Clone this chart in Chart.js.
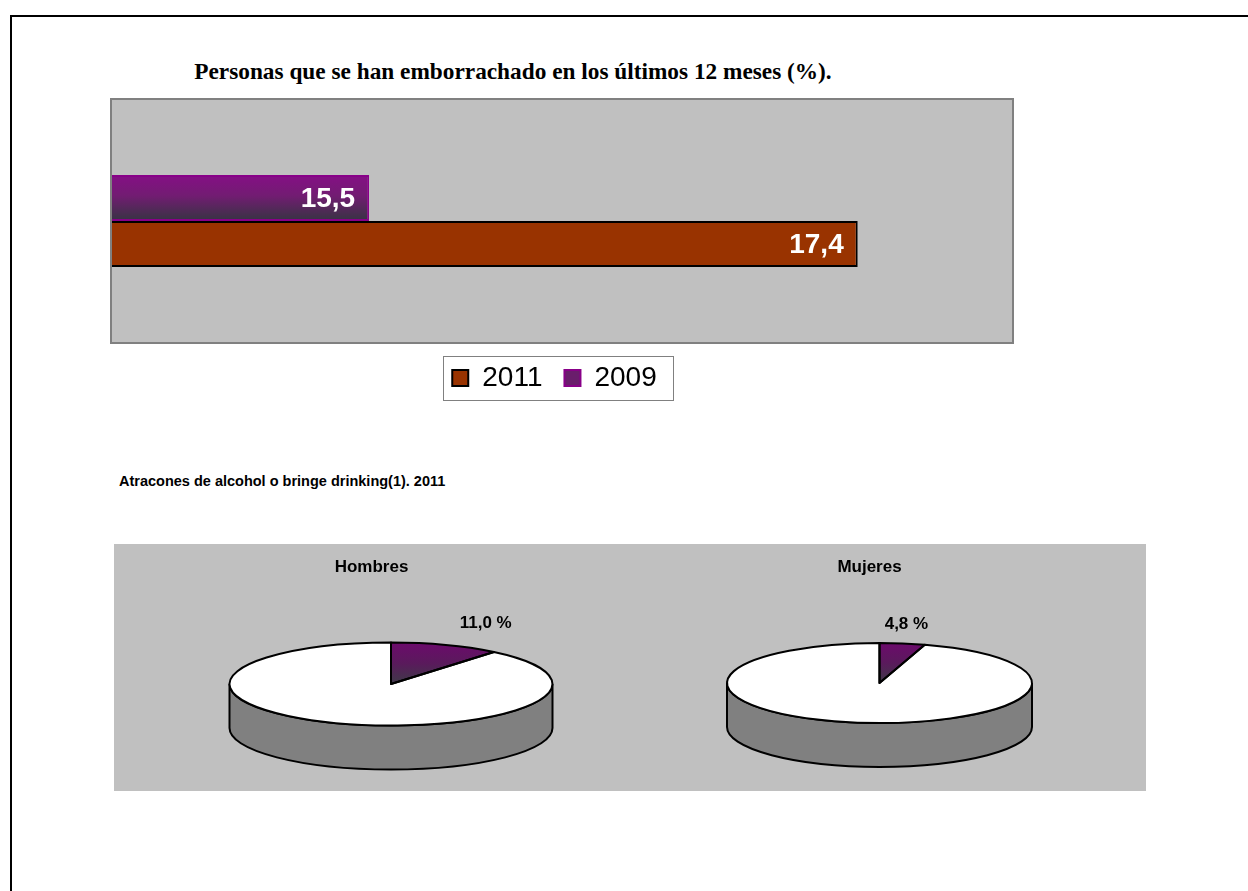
<!DOCTYPE html>
<html>
<head>
<meta charset="utf-8">
<script src="https://cdn.jsdelivr.net/npm/chart.js@4.4.1/dist/chart.umd.min.js"></script>
<style>
  html, body { margin: 0; padding: 0; background: #fff; overflow: hidden; }
  body { width: 1248px; height: 891px; position: relative; font-family: "Liberation Sans", Arial, sans-serif; }
  .marco { position: absolute; left: 10px; top: 15px; width: 1300px; height: 1000px; border: 2px solid #000; }
  .titulo { position: absolute; left: 0; width: 1026px; top: 58px; text-align: center;
            font: bold 23.3px "Liberation Serif", "Times New Roman", serif; color: #000; }
  .subtitulo { position: absolute; left: 119px; top: 473px; font: bold 14.5px "Liberation Sans", Arial, sans-serif; color: #000; }
  .cajaTartas { position: absolute; left: 114px; top: 544px; width: 1032px; height: 247px; background: #c0c0c0; }
  canvas { position: absolute; }
  #barras { left: 85px; top: 90px; }
  #hombres { left: 114px; top: 544px; }
  #mujeres { left: 630px; top: 544px; }
</style>
</head>
<body>
<div class="marco"></div>
<div class="titulo">Personas que se han emborrachado en los últimos 12 meses (%).</div>
<canvas id="barras" width="945" height="320"></canvas>
<div class="subtitulo">Atracones de alcohol o bringe drinking(1). 2011</div>
<div class="cajaTartas"></div>
<canvas id="hombres" width="515" height="247"></canvas>
<canvas id="mujeres" width="479" height="247"></canvas>

<script>
// datos
const categorias = ['Personas'];
const series = ['2009', '2011'];
const valores2009 = [15.5];
const valores2011 = [17.4];
const ejeMin = 14.5;
const ejeMax = 18;

const sectores = ['Atracones', 'Resto'];
const hombres = [11.0, 89.0];
const mujeres = [4.8, 95.2];

const coma = (v) => v.toFixed(1).replace('.', ',');

// fondo gris del area de trazado, degradado, etiquetas y marco de leyenda
const fondoPlot = {
    id: 'fondoPlot',
    beforeDraw(chart) {
        const a = chart.chartArea;
        const ctx = chart.ctx;
        ctx.save();
        ctx.fillStyle = '#c0c0c0';
        ctx.fillRect(a.left, a.top, a.right - a.left, a.bottom - a.top);
        ctx.strokeStyle = '#808080';
        ctx.lineWidth = 2;
        ctx.strokeRect(a.left - 1, a.top - 1, a.right - a.left + 2, a.bottom - a.top + 2);
        ctx.restore();
    },
    beforeDatasetsDraw(chart) {
        const meta = chart.getDatasetMeta(0);
        meta.data.forEach(el => {
            const h = el.height;
            const g = chart.ctx.createLinearGradient(0, el.y - h / 2, 0, el.y + h / 2);
            g.addColorStop(0, '#850f85');
            g.addColorStop(0.45, '#721c72');
            g.addColorStop(1, '#363442');
            el.options = Object.assign({}, el.options, { backgroundColor: g });
        });
    },
    afterDatasetsDraw(chart) {
        const ctx = chart.ctx;
        ctx.save();
        ctx.fillStyle = '#fff';
        ctx.font = 'bold 28px "Liberation Sans", Arial, sans-serif';
        ctx.textAlign = 'right';
        ctx.textBaseline = 'middle';
        chart.data.datasets.forEach((ds, i) => {
            chart.getDatasetMeta(i).data.forEach((el, j) => {
                ctx.fillText(coma(ds.data[j]), el.x - 14, el.y + 1);
            });
        });
        ctx.restore();
    },
    afterDraw(chart) {
        const boxes = chart.legend.legendHitBoxes;
        if (!boxes || !boxes.length) return;
        const first = boxes[0], last = boxes[boxes.length - 1];
        const ctx = chart.ctx;
        ctx.save();
        ctx.strokeStyle = '#808080';
        ctx.lineWidth = 1;
        const l = Math.round(first.left - 9) + 0.5;
        const r = Math.round(last.left + last.width + 16) + 0.5;
        const t = Math.round(first.top - 8) + 0.5;
        const b = Math.round(first.top + first.height + 8) + 0.5;
        ctx.strokeRect(l, t, r - l, b - t);
        ctx.restore();
    }
};

new Chart(document.getElementById('barras'), {
    type: 'bar',
    data: {
        labels: categorias,
        datasets: [{
            label: series[0],
            data: valores2009,
            backgroundColor: '#800080',
            borderColor: '#880088',
            borderWidth: 2,
            borderSkipped: false
        }, {
            label: series[1],
            data: valores2011,
            backgroundColor: '#993300',
            borderColor: '#000000',
            borderWidth: 2,
            borderSkipped: false
        }]
    },
    options: {
        indexAxis: 'y',
        responsive: false,
        animation: false,
        events: [],
        categoryPercentage: 0.38,
        barPercentage: 1,
        layout: { padding: { left: 12, right: 18, top: 10, bottom: 8 } },
        scales: {
            x: { display: false, min: ejeMin, max: ejeMax },
            // eje de categorias sin marcas; solo reserva el hueco de la izquierda
            y: {
                display: true,
                grid: { display: false },
                border: { display: false },
                ticks: { display: false },
                afterFit(scale) { scale.width = 15; }
            }
        },
        plugins: {
            tooltip: { enabled: false },
            legend: {
                position: 'bottom',
                reverse: true,
                labels: {
                    color: '#000',
                    font: { family: '"Liberation Sans", Arial, sans-serif', size: 28 },
                    boxWidth: 16,
                    boxHeight: 16,
                    padding: 22,
                    generateLabels(chart) {
                        return chart.data.datasets.map((ds, i) => ({
                            text: ds.label,
                            fillStyle: i === 0 ? '#6a1d6c' : '#993300',
                            strokeStyle: i === 0 ? '#880088' : '#000000',
                            lineWidth: 2,
                            datasetIndex: i
                        }));
                    }
                }
            }
        }
    },
    plugins: [fondoPlot]
});

// tarta en perspectiva: aplasta los sectores y dibuja el canto
const tarta3d = {
    id: 'tarta3d',
    beforeDatasetsDraw(chart, args, o) {
        const el = chart.getDatasetMeta(0).data[0];
        const r = el.outerRadius, ry = r * o.tilt;
        const ctx = chart.ctx;
        ctx.save();
        ctx.beginPath();
        ctx.ellipse(o.cx, o.cy, r, ry, 0, 0, Math.PI);
        ctx.lineTo(o.cx - r, o.cy + o.depth);
        ctx.ellipse(o.cx, o.cy + o.depth, r, ry, 0, Math.PI, 0, true);
        ctx.closePath();
        ctx.fillStyle = '#808080';
        ctx.fill();
        ctx.strokeStyle = '#000';
        ctx.lineWidth = 2;
        ctx.stroke();
        ctx.restore();
    },
    beforeDatasetDraw(chart, args, o) {
        const ctx = chart.ctx;
        const meta = chart.getDatasetMeta(args.index);
        const el = meta.data[0];
        const g = ctx.createLinearGradient(0, el.y - el.outerRadius, 0, el.y);
        g.addColorStop(0, '#6c0a6c');
        g.addColorStop(0.5, '#5a1a5c');
        g.addColorStop(1, '#3e3a48');
        el.options = Object.assign({}, el.options, { backgroundColor: g });
        ctx.save();
        ctx.translate(o.cx, o.cy);
        ctx.scale(1, o.tilt);
        ctx.translate(-el.x, -el.y);
    },
    afterDatasetDraw(chart, args, o) {
        const ctx = chart.ctx;
        ctx.restore();
        const meta = chart.getDatasetMeta(args.index);
        ctx.save();
        ctx.strokeStyle = '#000';
        ctx.lineWidth = 2;
        ctx.lineJoin = 'round';
        meta.data.forEach(el => {
            ctx.save();
            ctx.translate(o.cx, o.cy);
            ctx.scale(1, o.tilt);
            ctx.translate(-el.x, -el.y);
            ctx.beginPath();
            ctx.moveTo(el.x, el.y);
            ctx.arc(el.x, el.y, el.outerRadius, el.startAngle, el.endAngle);
            ctx.closePath();
            ctx.restore();
            ctx.stroke();
        });
        // etiqueta del porcentaje
        const el = meta.data[0];
        const r = el.outerRadius;
        const mid = (el.startAngle + el.endAngle) / 2;
        const x = o.cx + r * Math.cos(mid) + o.labelDx;
        const y = o.cy - r * o.tilt - 19;
        ctx.fillStyle = '#000';
        ctx.font = 'bold 17px "Liberation Sans", Arial, sans-serif';
        ctx.textAlign = 'center';
        ctx.textBaseline = 'middle';
        ctx.fillText(coma(chart.data.datasets[0].data[0]) + ' %', x, y);
        ctx.restore();
    }
};

function tarta(id, titulo, datos, radio, pos) {
    new Chart(document.getElementById(id), {
        type: 'pie',
        data: {
            labels: sectores,
            datasets: [{
                data: datos,
                backgroundColor: ['#600a60', '#ffffff'],
                borderWidth: 0,
                radius: radio,
                clip: false
            }]
        },
        options: {
            responsive: false,
            animation: false,
            events: [],
            plugins: {
                legend: { display: false },
                tooltip: { enabled: false },
                title: {
                    display: true,
                    text: titulo,
                    color: '#000',
                    font: { family: '"Liberation Sans", Arial, sans-serif', size: 17, weight: 'bold' },
                    padding: { top: 13, bottom: 8 }
                },
                tarta3d: pos
            }
        },
        plugins: [tarta3d]
    });
}

tarta('hombres', 'Hombres', hombres, 161.5, { cx: 277, cy: 140, tilt: 0.257, depth: 44, labelDx: 40 });
tarta('mujeres', 'Mujeres', mujeres, 152.5, { cx: 249.5, cy: 139, tilt: 0.262, depth: 44, labelDx: 4 });
</script>
</body>
</html>
